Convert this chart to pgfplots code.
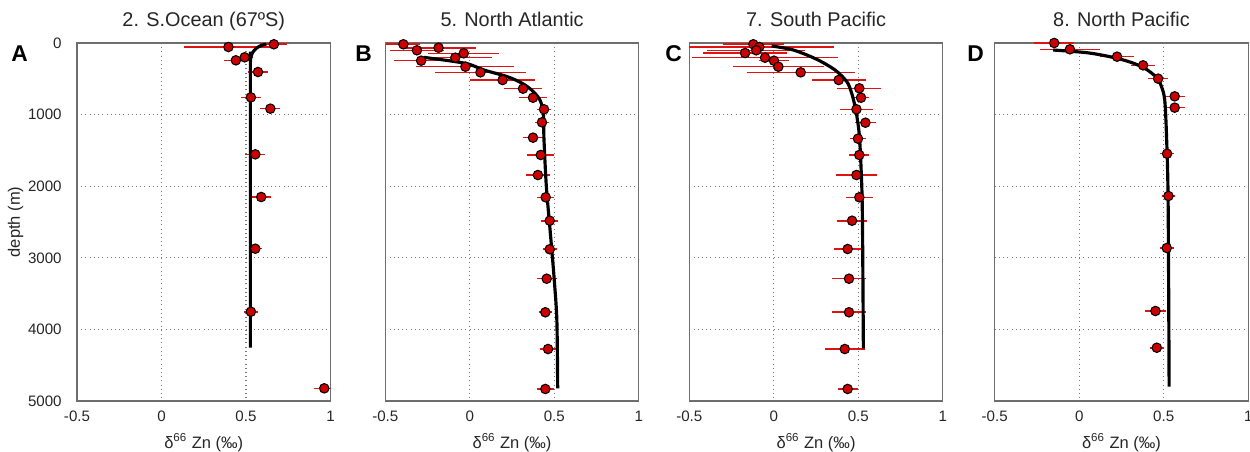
\documentclass[border=0pt]{standalone}
\usepackage{fontspec}
\setmainfont{Liberation Sans}
\usepackage{pgfplots}
\pgfplotsset{compat=1.18}

\definecolor{datred}{RGB}{204,0,0}
\definecolor{errred}{RGB}{222,20,20}
\definecolor{framec}{RGB}{110,110,110}
\definecolor{gridc}{RGB}{120,120,120}

\pgfplotsset{
  panel/.style={
    scale only axis, width=5.07cm, height=7.16cm, anchor=south west,
    xmin=-0.5, xmax=1, ymin=0, ymax=5000, y dir=reverse,
    xtick={-0.5,0,0.5,1}, xticklabels={-0.5,0,0.5,1},
    ytick={0,1000,2000,3000,4000,5000}, yticklabels={},
    grid=major, major grid style={gridc, dotted, line width=0.7pt},
    axis line style={framec, line width=0.7pt},
    major tick length=0pt, clip=false,
    tick label style={font=\fontsize{8.6}{10}\selectfont, text=black!85},
    xticklabel style={anchor=base, yshift=-0.41cm, inner sep=0pt},
    yticklabel style={anchor=east, xshift=-0.3cm, inner sep=0pt},
    xlabel={δ\textsuperscript{66} Zn (‰)},
    xlabel style={at={(axis description cs:0.5,0)}, anchor=base, yshift=-0.94cm,
      font=\fontsize{9.4}{11}\selectfont, text=black!85},
    title style={at={(axis description cs:0.5,1)}, anchor=base, yshift=0.12cm,
      font=\fontsize{11.3}{13}\selectfont, text=black!85},
  },
  fit/.style={black, line width=1.8pt, smooth},
  % error bars: one segment per sample, (x-e,d) -- (x+e,d), broken by nan
  err/.style={errred, line width=0.9pt, unbounded coords=jump, forget plot},
  obs/.style={only marks, mark=*, mark size=2.7pt,
    mark options={fill=datred, draw=black, line width=0.6pt}},
}

\begin{document}
\begin{tikzpicture}
\useasboundingbox (0,0) rectangle (25,9.04);

% A: Southern Ocean
\begin{axis}[panel, at={(1.54cm,1.02cm)}, title={2. S.Ocean (67ºS)},
  yticklabels={0,1000,2000,3000,4000,5000},
  ylabel={depth (m)},
  ylabel style={at={(axis description cs:-0.2426,0.5)}, anchor=center,
    font=\fontsize{9.4}{11}\selectfont, text=black!85}]
  \addplot[err] coordinates {
    (0.585,18) (0.745,18) (nan,nan)
    (0.136,56) (0.656,56) (nan,nan)
    (0.442,200) (0.542,200) (nan,nan)
    (0.370,242) (0.510,242) (nan,nan)
    (0.511,405) (0.631,405) (nan,nan)
    (0.469,759) (0.589,759) (nan,nan)
    (0.584,917) (0.704,917) (nan,nan)
    (0.495,1555) (0.615,1555) (nan,nan)
    (0.530,2151) (0.650,2151) (nan,nan)
    (0.515,2873) (0.595,2873) (nan,nan)
    (0.489,3753) (0.569,3753) (nan,nan)
    (0.900,4823) (1.000,4823)
  };
  \addplot[fit] coordinates {
    (0.62,15) (0.59,35) (0.56,75) (0.54,130) (0.53,190) (0.526,260) (0.526,400) (0.526,4255)
  };
  \addplot[obs] coordinates {
    (0.665,18) (0.396,56) (0.492,200) (0.440,242) (0.571,405) (0.529,759)
    (0.644,917) (0.555,1555) (0.590,2151) (0.555,2873) (0.529,3753) (0.963,4823)
  };
\end{axis}

% B: North Atlantic
\begin{axis}[panel, at={(7.706cm,1.02cm)}, title={5. North Atlantic}]
  \addplot[err] coordinates {
    (-0.493,18) (-0.293,18) (nan,nan)
    (-0.473,102) (-0.153,102) (nan,nan)
    (-0.405,66) (0.035,66) (nan,nan)
    (-0.246,144) (0.174,144) (nan,nan)
    (-0.306,205) (0.134,205) (nan,nan)
    (-0.448,247) (-0.128,247) (nan,nan)
    (-0.316,331) (0.264,331) (nan,nan)
    (-0.207,410) (0.333,410) (nan,nan)
    (0.004,517) (0.384,517) (nan,nan)
    (0.205,638) (0.425,638) (nan,nan)
    (0.294,764) (0.454,764) (nan,nan)
    (0.399,926) (0.479,926) (nan,nan)
    (0.387,1108) (0.467,1108) (nan,nan)
    (0.314,1322) (0.434,1322) (nan,nan)
    (0.340,1564) (0.500,1564) (nan,nan)
    (0.333,1844) (0.473,1844) (nan,nan)
    (0.399,2155) (0.499,2155) (nan,nan)
    (0.423,2482) (0.523,2482) (nan,nan)
    (0.433,2881) (0.513,2881) (nan,nan)
    (0.395,3292) (0.515,3292) (nan,nan)
    (0.407,3761) (0.487,3761) (nan,nan)
    (0.413,4274) (0.513,4274) (nan,nan)
    (0.397,4832) (0.497,4832)
  };
  \addplot[fit] coordinates {
    (-0.274,200) (-0.026,284) (0.083,377) (0.222,470) (0.31,563) (0.37,666)
    (0.415,796) (0.435,982) (0.439,1355) (0.453,2007) (0.475,2612)
    (0.499,3287) (0.515,3869) (0.52,4823)
  };
  \addplot[obs] coordinates {
    (-0.393,18) (-0.313,102) (-0.185,66) (-0.036,144) (-0.086,205) (-0.288,247)
    (-0.026,331) (0.063,410) (0.194,517) (0.315,638) (0.374,764) (0.439,926)
    (0.427,1108) (0.374,1322) (0.420,1564) (0.403,1844) (0.449,2155) (0.473,2482)
    (0.473,2881) (0.455,3292) (0.447,3761) (0.463,4274) (0.447,4832)
  };
\end{axis}

% C: South Pacific
\begin{axis}[panel, at={(13.786cm,1.02cm)}, title={7. South Pacific}]
  \addplot[err] coordinates {
    (-0.301,18) (0.059,18) (nan,nan)
    (-0.500,56) (0.354,56) (nan,nan)
    (-0.394,102) (0.186,102) (nan,nan)
    (-0.420,140) (0.080,140) (nan,nan)
    (-0.482,205) (0.378,205) (nan,nan)
    (-0.089,247) (0.091,247) (nan,nan)
    (-0.243,331) (0.297,331) (nan,nan)
    (-0.161,410) (0.479,410) (nan,nan)
    (0.224,517) (0.544,517) (nan,nan)
    (0.376,633) (0.636,633) (nan,nan)
    (0.466,764) (0.566,764) (nan,nan)
    (0.389,926) (0.589,926) (nan,nan)
    (0.482,1113) (0.602,1113) (nan,nan)
    (0.448,1336) (0.548,1336) (nan,nan)
    (0.446,1564) (0.566,1564) (nan,nan)
    (0.369,1844) (0.609,1844) (nan,nan)
    (0.426,2155) (0.586,2155) (nan,nan)
    (0.373,2482) (0.553,2482) (nan,nan)
    (0.357,2877) (0.517,2877) (nan,nan)
    (0.345,3292) (0.545,3292) (nan,nan)
    (0.345,3761) (0.545,3761) (nan,nan)
    (0.300,4274) (0.540,4274) (nan,nan)
    (0.377,4832) (0.497,4832)
  };
  \addplot[fit] coordinates {
    (-0.013,42) (0.116,98) (0.254,228) (0.362,377) (0.432,540) (0.461,703)
    (0.485,936) (0.505,1261) (0.516,1728) (0.524,2379) (0.53,4264)
  };
  \addplot[obs] coordinates {
    (-0.121,18) (-0.086,56) (-0.104,102) (-0.170,140) (-0.052,205) (0.001,247)
    (0.027,331) (0.159,410) (0.384,517) (0.506,633) (0.516,764) (0.489,926)
    (0.542,1113) (0.498,1336) (0.506,1564) (0.489,1844) (0.506,2155) (0.463,2482)
    (0.437,2877) (0.445,3292) (0.445,3761) (0.420,4274) (0.437,4832)
  };
\end{axis}

% D: North Pacific
\begin{axis}[panel, at={(19.894cm,1.02cm)}, title={8. North Pacific}]
  \addplot[err] coordinates {
    (-0.268,0) (-0.028,0) (nan,nan)
    (-0.235,88) (0.125,88) (nan,nan)
    (0.124,191) (0.324,191) (nan,nan)
    (0.308,312) (0.448,312) (nan,nan)
    (0.407,498) (0.527,498) (nan,nan)
    (0.505,745) (0.625,745) (nan,nan)
    (0.505,903) (0.625,903) (nan,nan)
    (0.480,1546) (0.560,1546) (nan,nan)
    (0.488,2137) (0.568,2137) (nan,nan)
    (0.478,2863) (0.558,2863) (nan,nan)
    (0.391,3743) (0.511,3743) (nan,nan)
    (0.419,4256) (0.499,4256)
  };
  \addplot[fit] coordinates {
    (-0.154,98) (0.043,135) (0.181,191) (0.30,265) (0.388,354) (0.457,479)
    (0.487,610) (0.506,796) (0.516,1261) (0.526,2193) (0.532,4800)
  };
  \addplot[obs] coordinates {
    (-0.148,0) (-0.055,88) (0.224,191) (0.378,312) (0.467,498) (0.565,745)
    (0.565,903) (0.520,1546) (0.528,2137) (0.518,2863) (0.451,3743) (0.459,4256)
  };
\end{axis}

% panel letters
\foreach \lx/\lt in {0.39/A, 7.27/B, 13.47/C, 19.51/D}
  \node[font=\fontsize{13}{15}\selectfont\bfseries, inner sep=0pt] at (\lx,7.97) {\lt};
\end{tikzpicture}
\end{document}
